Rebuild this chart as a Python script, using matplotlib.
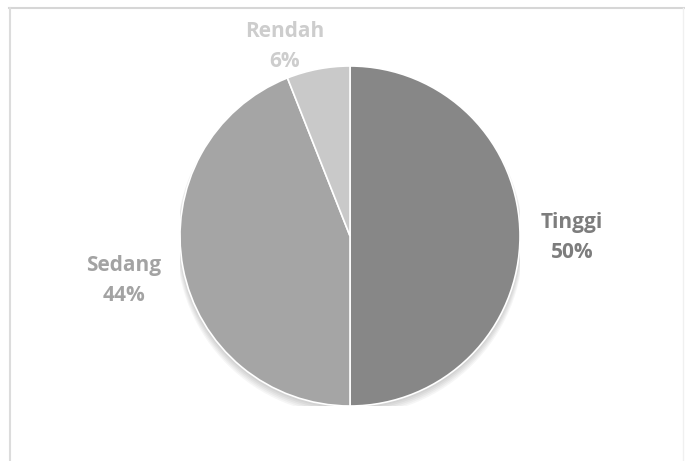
import matplotlib.pyplot as plt
from matplotlib.patches import Circle
from matplotlib.lines import Line2D

labels = ['Tinggi', 'Sedang', 'Rendah']
values = [50, 44, 6]
colors = ['#878787', '#a5a5a5', '#c9c9c9']
text_colors = ['#7d7d7d', '#a3a3a3', '#cdcdcd']
# label offsets in pie radius units
label_pos = [(1.306, -0.01), (-1.33, -0.26), (-0.385, 1.115)]

W, H = 685, 461
fig = plt.figure(figsize=(W / 100, H / 100), dpi=100)
fig.patch.set_facecolor('white')

# chart frame (top, left, faint right)
fig.lines.append(Line2D([9 / W, 684 / W], [452.5 / H, 452.5 / H], transform=fig.transFigure,
                        color='#d6d6d6', linewidth=1.5))
fig.lines.append(Line2D([9.5 / W, 9.5 / W], [0, 453 / H], transform=fig.transFigure,
                        color='#dcdcdc', linewidth=1.5))
fig.lines.append(Line2D([683 / W, 683 / W], [0, 453 / H], transform=fig.transFigure,
                        color='#f0f0f0', linewidth=1.0))

cx, cy, r = 350, 461 - 236, 170
ax = fig.add_axes([(cx - r) / W, (cy - r) / H, 2 * r / W, 2 * r / H])

# soft shadow under the pie
for i in range(6):
    ax.add_patch(Circle((0, -0.006 * (i + 1)), 1.0 + 0.004 * i, color='black',
                        alpha=0.035, linewidth=0, zorder=0))

ax.pie(values, colors=colors, startangle=90, counterclock=False,
       wedgeprops={'edgecolor': 'white', 'linewidth': 1.2, 'zorder': 2})
ax.set_xlim(-1, 1)
ax.set_ylim(-1, 1)
ax.axis('off')

for lab, v, c, (x, y) in zip(labels, values, text_colors, label_pos):
    ax.text(x, y, f'{lab}\n{v}%', color=c, ha='center', va='center',
            fontsize=15, fontweight='bold', family='Open Sans', linespacing=1.55)

fig.savefig('out.png', dpi=100)
